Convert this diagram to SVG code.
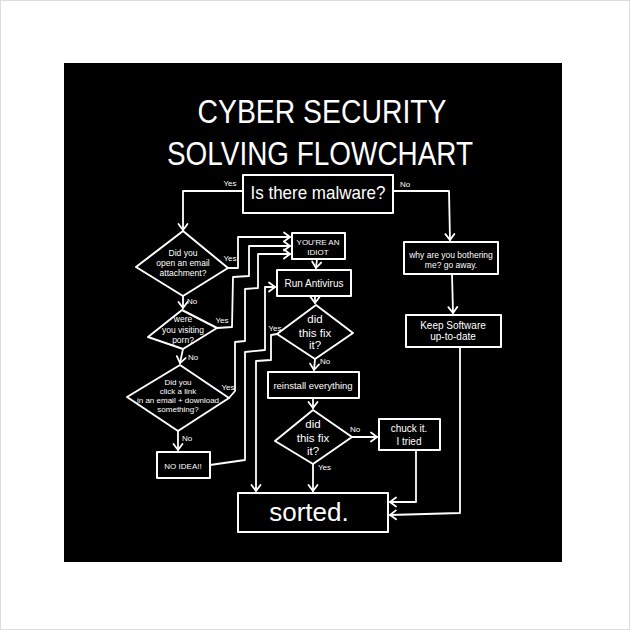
<svg xmlns="http://www.w3.org/2000/svg" width="630" height="630" viewBox="0 0 630 630">
<defs>
<marker id="ah" viewBox="-8 -6 10 12" refX="0" refY="0" markerWidth="10" markerHeight="12" markerUnits="userSpaceOnUse" orient="auto">
<path d="M-6,-4.5 L0,0 L-6,4.5" fill="none" stroke="#fff" stroke-width="1.8" stroke-linecap="round" stroke-linejoin="round"/>
</marker>
<style>
.bx{fill:#000;stroke:#fff;stroke-width:2;stroke-linejoin:round}
.cn{fill:none;stroke:#fff;stroke-width:1.8;stroke-linejoin:round;stroke-linecap:round}
.ar{marker-end:url(#ah)}
text{font-family:"Liberation Sans","DejaVu Sans",Arial,sans-serif;fill:#fff}
.m{text-anchor:middle}
.lb{font-size:8px}
.s8{font-size:8px}
.s85{font-size:8.5px}
.s10{font-size:10px}
.s11{font-size:11.5px}
.ttl{font-size:33px;text-anchor:middle}
</style>
</defs>
<rect x="0" y="0" width="630" height="630" fill="#fff"/>
<rect x="0.5" y="0.5" width="629" height="629" fill="none" stroke="#ddd" stroke-width="1"/>
<rect x="64" y="63" width="498" height="499" fill="#000"/>

<g id="title">
<text class="ttl" x="322" y="123" textLength="249" lengthAdjust="spacingAndGlyphs">CYBER SECURITY</text>
<text class="ttl" x="320" y="165" textLength="306" lengthAdjust="spacingAndGlyphs">SOLVING FLOWCHART</text>
</g>

<g id="connectors">
<polyline class="cn ar" points="243,191 183,191 183,230"/>
<polyline class="cn ar" points="393,191 449,191 450,240"/>
<polyline class="cn ar" points="452,274 453,313"/>
<polyline class="cn ar" points="460,347 460,513 390,515"/>
<polyline class="cn ar" points="416,450 416,502 390,502"/>
<polyline class="cn ar" points="183,296 183,308"/>
<polyline class="cn ar" points="183,349 180,363"/>
<polyline class="cn ar" points="178,431 178,450"/>
<polyline class="cn ar" points="228,268 238,268 238,237 290,237"/>
<polyline class="cn ar" points="217,328 232,327 233,277 249,276 249,246 290,246"/>
<polyline class="cn ar" points="229,398 235,391 235,342 245,341 245,289 258,288 258,254 290,254"/>
<polyline class="cn ar" points="210,465 245,460 245,352 265,350 265,287 275,287"/>
<polyline class="cn ar" points="277,334 271,335 271,360 256,361 256,491"/>
<polyline class="cn ar" points="317,259 316,268"/>
<polyline class="cn ar" points="315,296 315,303"/>
<polyline class="cn ar" points="315,359 314,370"/>
<polyline class="cn ar" points="313,398 313,408"/>
<polyline class="cn ar" points="352,437 377,437"/>
<polyline class="cn ar" points="313,464 313,491"/>
</g>

<g id="labels">
<text class="lb m" x="230" y="186">Yes</text>
<text class="lb" x="400" y="187">No</text>
<text class="lb m" x="230" y="261">Yes</text>
<text class="lb" x="187" y="304">No</text>
<text class="lb m" x="222" y="323">Yes</text>
<text class="lb" x="188" y="360">No</text>
<text class="lb m" x="228" y="390">Yes</text>
<text class="lb" x="182" y="441">No</text>
<text class="lb m" x="275" y="331">Yes</text>
<text class="lb" x="320" y="364">No</text>
<text class="lb m" x="355" y="432">No</text>
<text class="lb" x="318" y="470">Yes</text>
</g>

<g id="malware">
<rect class="bx" x="243" y="175" width="150" height="38"/>
<text class="m" x="318" y="199" font-size="19" textLength="135" lengthAdjust="spacingAndGlyphs">Is there malware?</text>
</g>

<g id="why">
<rect class="bx" x="404" y="242" width="94" height="32"/>
<text class="s85 m" x="451" y="258">why are you bothering</text>
<text class="s85 m" x="451" y="268">me? go away.</text>
</g>

<g id="keep">
<rect class="bx" x="406" y="315" width="95" height="32"/>
<text class="s10 m" x="453" y="329">Keep Software</text>
<text class="s10 m" x="453" y="340">up-to-date</text>
</g>

<g id="q-email">
<polygon class="bx" points="183,231 228,268 183,296 136,267"/>
<text class="s85 m" x="183" y="256">Did you</text>
<text class="s85 m" x="183" y="266">open an email</text>
<text class="s85 m" x="183" y="276">attachment?</text>
</g>

<g id="q-porn">
<polygon class="bx" points="182,310 217,328 183,349 148,337"/>
<text class="s85 m" x="183" y="322">were</text>
<text class="s85 m" x="183" y="333">you visiting</text>
<text class="s85 m" x="183" y="343">porn?</text>
</g>

<g id="q-link">
<polygon class="bx" points="180,365 229,398 178,431 127,397"/>
<text class="s8 m" x="178" y="385">Did you</text>
<text class="s8 m" x="178" y="394">click a link</text>
<text class="s8 m" x="178" y="403">in an email + download</text>
<text class="s8 m" x="178" y="412">something?</text>
</g>

<g id="noidea">
<rect class="bx" x="157" y="452" width="53" height="26"/>
<text class="s8 m" x="183" y="469">NO IDEA!!</text>
</g>

<g id="idiot">
<rect class="bx" x="292" y="233" width="53" height="26"/>
<text class="s8 m" x="318" y="245">YOU'RE AN</text>
<text class="s8 m" x="318" y="255">IDIOT</text>
</g>

<g id="antivirus">
<rect class="bx" x="277" y="270" width="74" height="26"/>
<text class="s10 m" x="314" y="287">Run Antivirus</text>
</g>

<g id="fix1">
<polygon class="bx" points="316,305 353,333 315,359 277,334"/>
<text class="s11 m" x="315" y="323">did</text>
<text class="s11 m" x="315" y="337">this fix</text>
<text class="s11 m" x="315" y="349">it?</text>
</g>

<g id="reinstall">
<rect class="bx" x="268" y="372" width="91" height="26"/>
<text class="m" x="313" y="389" font-size="9.5">reinstall everything</text>
</g>

<g id="fix2">
<polygon class="bx" points="313,410 352,437 313,464 275,441"/>
<text class="s11 m" x="313" y="428">did</text>
<text class="s11 m" x="313" y="442">this fix</text>
<text class="s11 m" x="313" y="455">it?</text>
</g>

<g id="chuck">
<rect class="bx" x="379" y="419" width="61" height="31"/>
<text class="s10 m" x="409" y="432">chuck it.</text>
<text class="s10 m" x="409" y="445">I tried</text>
</g>

<g id="sorted">
<rect class="bx" x="238" y="493" width="150" height="39"/>
<text class="m" x="309" y="521" font-size="26">sorted.</text>
</g>
</svg>
